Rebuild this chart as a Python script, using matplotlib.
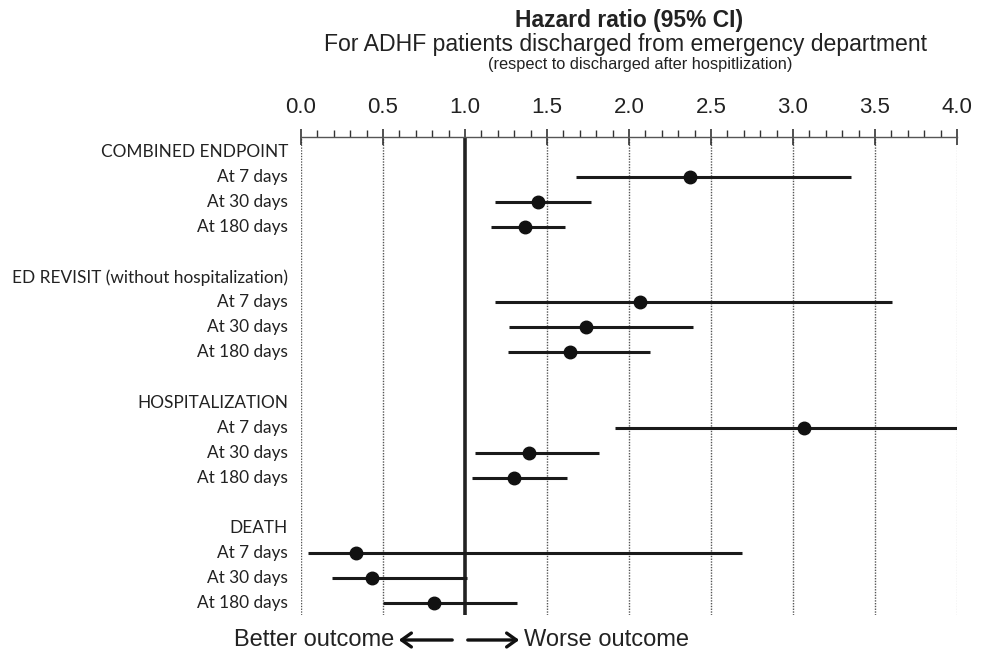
import numpy as np
import matplotlib
matplotlib.use("Agg")
import matplotlib.pyplot as plt
import matplotlib.patches as patches

# rows (top to bottom); group headers have no estimate
labels = ["COMBINED ENDPOINT", "At 7 days", "At 30 days", "At 180 days", "",
          "ED REVISIT (without hospitalization)", "At 7 days", "At 30 days", "At 180 days", "",
          "HOSPITALIZATION", "At 7 days", "At 30 days", "At 180 days", "",
          "DEATH", "At 7 days", "At 30 days", "At 180 days"]
hr    = [None, 2.37, 1.445, 1.363, None,
         None, 2.067, 1.737, 1.639, None,
         None, 3.066, 1.39, 1.297, None,
         None, 0.333, 0.43, 0.81]
lower = [None, 1.676, 1.18, 1.157, None,
         None, 1.184, 1.267, 1.261, None,
         None, 1.913, 1.06, 1.04, None,
         None, 0.042, 0.188, 0.5]
upper = [None, 3.355, 1.767, 1.61, None,
         None, 3.604, 2.388, 2.13, None,
         None, 4.0, 1.82, 1.62, None,
         None, 2.69, 1.01, 1.316]
xticks = [0.0, 0.5, 1.0, 1.5, 2.0, 2.5, 3.0, 3.5, 4.0]

fig = plt.figure(figsize=(9.86, 6.53), dpi=100)
ax = fig.add_axes([301/986, 1-615/653, 656/986, (615-137)/653])

n = len(labels)
ax.set_xlim(0, 4)
ax.set_ylim(18.48, -0.6)

for x in xticks:
    if x == 1.0:
        continue
    c = '#cccccc' if x == 4.0 else '#555555'
    ax.axvline(x, color=c, linestyle=(0, (1, 1)), linewidth=1.0, zorder=1)
ax.axvline(1.0, color='#222222', linewidth=2.6, zorder=2)

for i in range(n):
    if hr[i] is None:
        continue
    ax.plot([lower[i], upper[i]], [i, i], color='#1a1a1a', linewidth=2.2, zorder=3,
            solid_capstyle='butt')
    ax.plot(hr[i], i, 'o', color='#111111', markersize=9, zorder=4)

for i, lab in enumerate(labels):
    if lab:
        ax.text(-0.08, i, lab, ha='right', va='center', fontsize=12.4,
                family='Lato', color='#222222', clip_on=False)

for s in ['left', 'right', 'bottom']:
    ax.spines[s].set_visible(False)
ax.spines['top'].set_color('#555555')
ax.spines['top'].set_linewidth(1.0)
ax.set_yticks([])
ax.xaxis.tick_top()
ax.set_xticks(xticks)
ax.set_xticklabels(["%.1f" % x for x in xticks], family='Liberation Sans', fontsize=16,
                   color='#222222')
ax.set_xticks(np.arange(0, 4.01, 0.1), minor=True)
ax.tick_params(axis='x', which='major', direction='inout', length=12, width=1.2,
               color='#333333', pad=8)
ax.tick_params(axis='x', which='minor', direction='out', length=5, width=1.0,
               color='#333333')

fig.text(629/986, 1-21/653, "Hazard ratio (95% CI)", ha='center', va='center',
         fontsize=16.5, fontweight='bold', family='Liberation Sans', color='#222222')
fig.text(626/986, 1-44/653, "For ADHF patients discharged from emergency department",
         ha='center', va='center', fontsize=16.6, family='Liberation Sans', color='#222222')
fig.text(640/986, 1-64/653, "(respect to discharged after hospitlization)",
         ha='center', va='center', fontsize=11.8, family='Liberation Sans', color='#222222')

# outcome arrows below the chart
ya = 1 - 640/653
fig.text(394/986, ya, "Better outcome", ha='right', va='center', fontsize=17,
         family='Liberation Sans', color='#222222')
fig.text(524/986, ya, "Worse outcome", ha='left', va='center', fontsize=17,
         family='Liberation Sans', color='#222222')
fig.add_artist(patches.FancyArrowPatch((455/986, ya), (396/986, ya),
               transform=fig.transFigure, arrowstyle='->,head_length=7,head_width=5',
               color='#111111', linewidth=2.4, mutation_scale=1))
fig.add_artist(patches.FancyArrowPatch((465/986, ya), (522/986, ya),
               transform=fig.transFigure, arrowstyle='->,head_length=7,head_width=5',
               color='#111111', linewidth=2.4, mutation_scale=1))

fig.savefig("out.png", dpi=100)
